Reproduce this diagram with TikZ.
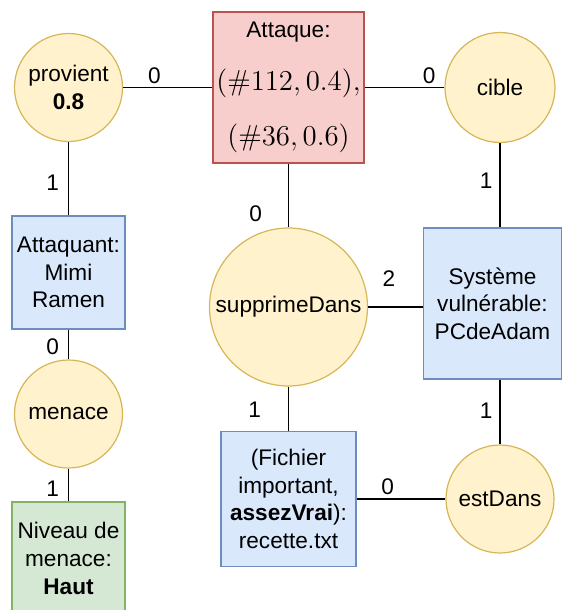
\documentclass[tikz,border=0pt]{standalone}
\usepackage[no-math]{fontspec}
\setmainfont{Liberation Sans}
\definecolor{relfill}{HTML}{FFF2CC}
\definecolor{reldraw}{HTML}{D6B656}
\definecolor{entfill}{HTML}{DAE8FC}
\definecolor{entdraw}{HTML}{6C8EBF}
\definecolor{atkfill}{HTML}{F8CECC}
\definecolor{atkdraw}{HTML}{B85450}
\definecolor{nivfill}{HTML}{D5E8D4}
\definecolor{nivdraw}{HTML}{82B366}

\begin{document}
\begin{tikzpicture}[x=0.5pt,y=-0.5pt,
    every node/.style={font=\fontsize{11.3}{13.8}\selectfont},
    rel/.style={circle,draw=reldraw,fill=relfill,line width=0.6pt,minimum size=54pt,inner sep=0pt,align=center},
    ent/.style={rectangle,draw=entdraw,fill=entfill,line width=0.6pt,minimum width=56.5pt,minimum height=56.5pt,inner sep=0pt,align=center},
    edge/.style={draw=black,line width=0.6pt},
    lbl/.style={inner sep=0pt}]
        \useasboundingbox (0,0) rectangle (563,610);
        \node[rel] (prov) at (68.5,87.5) {provient\\\textbf{0.8}};
        \node[ent,fill=atkfill,draw=atkdraw,minimum size=75.5pt] (atk) at (288.5,87.5)
            {Attaque:\\[12.5pt]{\fontsize{13.5}{16}\selectfont$(\#112, 0.4),$}\\[12.5pt]{\fontsize{13.5}{16}\selectfont$(\#36, 0.6)$}};
        \node[rel,minimum size=55pt] (cib) at (500,87.5) {cible};
        \node[ent] (attq) at (68.5,272.5) {Attaquant:\\Mimi\\Ramen};
        \node[rel] (men) at (68.5,414) {menace};
        \node[ent,fill=nivfill,draw=nivdraw] (niv) at (68.5,558.5) {Niveau de\\menace:\\\textbf{Haut}};
        \node[rel,minimum size=79pt] (supp) at (288.5,307) {supprimeDans};
        \node[ent,minimum width=69.3pt,minimum height=75.5pt] (sys) at (492.5,303.5) {Système\\vulnérable:\\PCdeAdam};
        \node[ent,minimum size=67.5pt] (fich) at (288.5,499) {(Fichier\\important,\\\textbf{assezVrai}):\\recette.txt};
        \node[rel] (est) at (500,499) {estDans};

        \draw[edge] (prov) -- node[lbl,pos=0.35,above=1.5pt] {0} (atk);
        \draw[edge] (atk) -- node[lbl,pos=0.81,above=1.5pt] {0} (cib);
        \draw[edge] (prov) -- node[lbl,pos=0.56,left=4.5pt] {1} (attq);
        \draw[edge] (attq) -- node[lbl,pos=0.56,left=4.5pt] {0} (men);
        \draw[edge] (men) -- node[lbl,pos=0.6,left=4.5pt] {1} (niv);
        \draw[edge] (atk) -- node[lbl,pos=0.78,left=13pt] {0} (supp);
        \draw[edge] (cib) -- node[lbl,pos=0.45,left=3.5pt] {1} (cib |- sys.north);
        \draw[edge] (supp) -- node[lbl,pos=0.38,above=10pt] {2} (supp -| sys.west);
        \draw[edge] (supp) -- node[lbl,pos=0.52,left=13.5pt] {1} (fich);
        \draw[edge] (sys.south -| est) -- node[lbl,pos=0.48,left=3.5pt] {1} (est);
        \draw[edge] (fich) -- node[lbl,pos=0.35,above=1.75pt] {0} (est);
    \end{tikzpicture}
\end{document}
